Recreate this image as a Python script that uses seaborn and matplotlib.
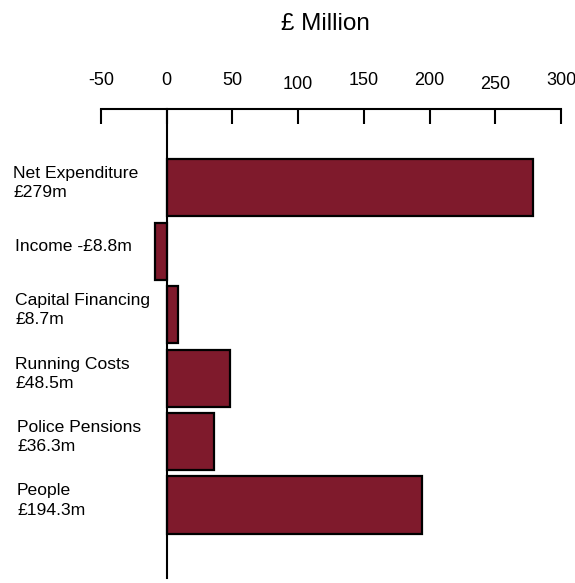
import matplotlib
matplotlib.use("Agg")
import matplotlib.pyplot as plt
import matplotlib.transforms as mtransforms
import seaborn as sns
import pandas as pd

categories = ["Net Expenditure", "Income", "Capital Financing", "Running Costs", "Police Pensions", "People"]
values = [279, -8.8, 8.7, 48.5, 36.3, 194.3]
labels = ["Net Expenditure\n£279m", "Income -£8.8m", "Capital Financing\n£8.7m",
          "Running Costs\n£48.5m", "Police Pensions\n£36.3m", "People\n£194.3m"]
xticks = [-50, 0, 50, 100, 150, 200, 250, 300]

sns.set_style("white")
plt.rcParams['font.family'] = ['Liberation Sans', 'DejaVu Sans']
plt.rcParams['text.color'] = 'black'

df = pd.DataFrame({"cat": categories, "val": values})

fig = plt.figure(figsize=(5.75, 5.83), dpi=100)
ax = fig.add_axes([0.1757, 0.0086, 0.8, 0.8044])
sns.barplot(data=df, x="val", y="cat", orient="h", width=0.9, color="#7f1a2c",
            saturation=1, edgecolor="black", linewidth=1.6, ax=ax)

ax.set_xlim(-50, 300)
ax.set_ylim(6.15, -1.24)
ax.set_xticks(xticks)
ax.set_xticklabels([str(t) for t in xticks], fontsize=13)
ax.xaxis.tick_top()
ax.tick_params(axis='x', direction='in', length=11, width=1.5, pad=14.5, colors='black')
# slight vertical stagger of some tick labels as in the original
for t, lab in zip(xticks, ax.get_xticklabels()):
    if t in (100, 250):
        lab.set_transform(lab.get_transform() + mtransforms.ScaledTranslation(0, -3 / 72, fig.dpi_scale_trans))
ax.set_yticks([])
ax.set_xlabel("")
ax.set_ylabel("")
for s in ["right", "bottom"]:
    ax.spines[s].set_visible(False)
ax.spines["top"].set_linewidth(1.5)
ax.spines["top"].set_color("black")
ax.spines["left"].set_position(("data", 0))
ax.spines["left"].set_linewidth(1.5)
ax.spines["left"].set_color("black")

trans = mtransforms.blended_transform_factory(fig.transFigure, ax.transData)
offsets = [13, 15, 15, 15, 17, 17]
for i, (lab, off) in enumerate(zip(labels, offsets)):
    fig.text(off / 575, i - 0.07, lab, fontsize=12.6, ha="left", va="center",
             transform=trans, linespacing=1.35, color="black")

fig.text(325 / 575, 1 - 24 / 583, "£ Million", fontsize=17.5, ha="center", va="center", color="black")

fig.savefig("out.png", dpi=100)
